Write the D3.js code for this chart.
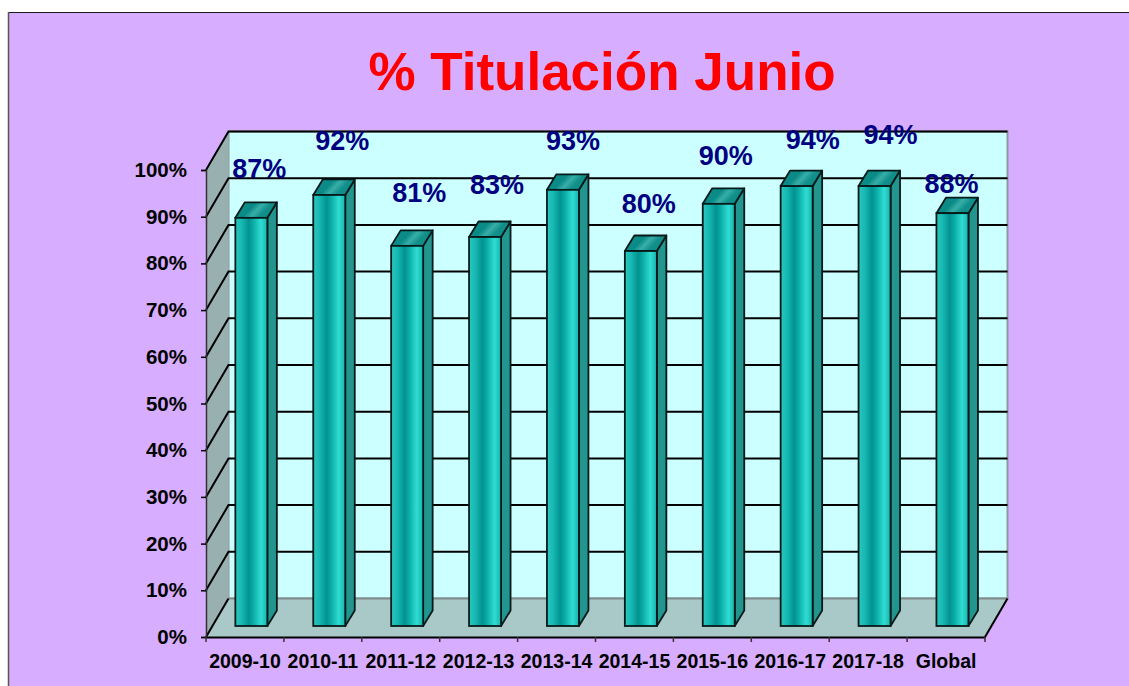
<!DOCTYPE html>
<html>
<head>
<meta charset="utf-8">
<script src="https://cdn.jsdelivr.net/npm/d3@7"></script>
<style>
  html, body { margin: 0; padding: 0; background: #fff; overflow: hidden; }
  text { font-family: "Liberation Sans", Arial, sans-serif; font-weight: bold; }
</style>
</head>
<body>
<svg id="chart" width="1129" height="686"></svg>
<script>
var categories = ['2009-10','2010-11','2011-12','2012-13','2013-14','2014-15','2015-16','2016-17','2017-18','Global'];
var values = [87.4, 92.3, 81.4, 83.3, 93.4, 80.3, 90.4, 94.2, 94.2, 88.4];
var yTicks = [0,10,20,30,40,50,60,70,80,90,100];

// the value labels were dragged by hand in the original, offsets from bar top
var labelShiftX = [8, 13, 12, 12, 10, 8, 7, 16, 16, -1];
var labelShiftY = [-40, -45, -44, -43, -40, -38, -39, -37, -42, -20];

var width = 1129, height = 686;

// front plane of the chart box
var plotLeft = 206, plotRight = 985, plotBottom = 637, plotTop = 170;
// offset of the back wall and of the plane the bars stand on
var wallDx = 22.5, wallDy = -38.5;
var barDx = 6.4, barDy = -11;
var depthDx = 9.5, depthDy = -15.5;
var barWidth = 32;

var svg = d3.select('#chart');
var defs = svg.append('defs');

var x = d3.scaleBand().domain(categories).range([plotLeft, plotRight]);
var y = d3.scaleLinear().domain([0, 100]).range([plotBottom, plotTop]);

var poly = function (pts) {
  return pts.map(function (p) { return p.join(','); }).join(' ');
};

// gradients
var addGradient = function (id, stops, x2, y2) {
  var g = defs.append('linearGradient').attr('id', id)
    .attr('x1', 0).attr('y1', 0).attr('x2', x2).attr('y2', y2);
  stops.forEach(function (s) {
    g.append('stop').attr('offset', s[0]).attr('stop-color', s[1]);
  });
};
addGradient('barFront', [[0,'#2ac8c0'],[0.2,'#16b8b2'],[0.42,'#02928f'],[0.58,'#0cb0aa'],[0.8,'#30dcd2'],[1,'#14b4ac']], 1, 0);
addGradient('barTop', [[0,'#0e8f8b'],[0.45,'#0a8a86'],[0.62,'#38aea8'],[0.8,'#128f8b'],[1,'#0c8c88']], 1, 0.35);

// page background
svg.append('rect').attr('x', 8).attr('y', 12).attr('width', width).attr('height', height)
  .attr('fill', '#d6adff');
svg.append('line').attr('x1', 8).attr('x2', width).attr('y1', 12.5).attr('y2', 12.5)
  .attr('stroke', '#1a1a1a').attr('stroke-width', 1);
svg.append('line').attr('x1', 8.5).attr('x2', 8.5).attr('y1', 12).attr('y2', height)
  .attr('stroke', '#555').attr('stroke-width', 1.5);

// title
svg.append('text').attr('x', 602).attr('y', 90).attr('text-anchor', 'middle')
  .attr('font-size', 53).attr('fill', '#ff0000').attr('class', 'title')
  .text('% Titulación Junio');

// back wall
svg.append('rect')
  .attr('x', plotLeft + wallDx).attr('y', y(100) + wallDy)
  .attr('width', plotRight - plotLeft).attr('height', y(0) - y(100))
  .attr('fill', '#ccffff').attr('stroke', '#8c9a9a').attr('stroke-width', 2);

// side wall
svg.append('polygon')
  .attr('points', poly([[plotLeft, y(100)], [plotLeft + wallDx, y(100) + wallDy], [plotLeft + wallDx, y(0) + wallDy], [plotLeft, y(0)]]))
  .attr('fill', '#99b0b0');

// floor
svg.append('polygon')
  .attr('points', poly([[plotLeft, y(0)], [plotLeft + wallDx, y(0) + wallDy], [plotRight + wallDx, y(0) + wallDy], [plotRight, y(0)]]))
  .attr('fill', '#a9c8c8');
svg.append('line')
  .attr('x1', plotLeft + wallDx).attr('x2', plotRight + wallDx)
  .attr('y1', y(0) + wallDy).attr('y2', y(0) + wallDy)
  .attr('stroke', '#808c8c').attr('stroke-width', 2);

// grid lines on the back wall and the side wall
var grid = svg.append('g').attr('class', 'grid');
grid.selectAll('path').data(yTicks).enter().append('path')
  .attr('d', function (d) {
    var py = y(d);
    if (d === 0) {
      return 'M' + plotLeft + ',' + py + 'L' + (plotLeft + wallDx) + ',' + (py + wallDy);
    }
    return 'M' + plotLeft + ',' + py + 'L' + (plotLeft + wallDx) + ',' + (py + wallDy) + 'L' + (plotRight + wallDx) + ',' + (py + wallDy);
  })
  .attr('fill', 'none').attr('stroke', '#000').attr('stroke-width', 2);

// right edge of the floor
svg.append('line')
  .attr('x1', plotRight).attr('x2', plotRight + wallDx)
  .attr('y1', y(0)).attr('y2', y(0) + wallDy)
  .attr('stroke', '#000').attr('stroke-width', 2);

// axes
var yAxis = d3.axisLeft(y).tickValues(yTicks).tickSize(5).tickPadding(14)
  .tickFormat(function (d) { return d + '%'; });
var yG = svg.append('g').attr('transform', 'translate(' + plotLeft + ',0)').call(yAxis);
yG.select('.domain').attr('stroke', '#333').attr('stroke-width', 1.5);
yG.selectAll('.tick line').attr('stroke', '#000').attr('stroke-width', 1.5);
yG.selectAll('text').attr('font-size', 20.5).attr('fill', '#000').attr('font-family', null);

var xAxis = d3.axisBottom(x).tickSize(0).tickPadding(17);
var xG = svg.append('g').attr('transform', 'translate(0,' + plotBottom + ')').call(xAxis);
xG.select('.domain').attr('stroke', '#000').attr('stroke-width', 2);
xG.selectAll('text').attr('font-size', 19.5).attr('fill', '#000').attr('font-family', null);

// x ticks sit on the band edges
svg.append('g').selectAll('line').data(categories.concat(['end'])).enter().append('line')
  .attr('x1', function (d, i) { return plotLeft + i * x.bandwidth(); })
  .attr('x2', function (d, i) { return plotLeft + i * x.bandwidth(); })
  .attr('y1', plotBottom).attr('y2', plotBottom + 5)
  .attr('stroke', '#333').attr('stroke-width', 1.5);

// bars
var barX = function (d, i) { return x(categories[i]) + x.bandwidth() / 2 + barDx - barWidth / 2; };
var barBase = y(0) + barDy;
var barTop = function (d) { return y(d) + barDy; };

var bar = svg.append('g').attr('class', 'bars').selectAll('g').data(values).enter().append('g');

// side face
bar.append('polygon')
  .attr('points', function (d, i) {
    var bx = barX(d, i) + barWidth, ty = barTop(d);
    return poly([[bx, ty], [bx + depthDx, ty + depthDy], [bx + depthDx, barBase + depthDy], [bx, barBase]]);
  })
  .attr('fill', '#23958f').attr('stroke', '#071a1a').attr('stroke-width', 1.8).attr('stroke-linejoin', 'round');

// top face
bar.append('polygon')
  .attr('points', function (d, i) {
    var bx = barX(d, i), ty = barTop(d);
    return poly([[bx, ty], [bx + depthDx, ty + depthDy], [bx + barWidth + depthDx, ty + depthDy], [bx + barWidth, ty]]);
  })
  .attr('fill', 'url(#barTop)').attr('stroke', '#071a1a').attr('stroke-width', 1.8).attr('stroke-linejoin', 'round');

// front face
bar.append('rect')
  .attr('x', barX)
  .attr('y', barTop)
  .attr('width', barWidth)
  .attr('height', function (d) { return barBase - barTop(d); })
  .attr('fill', 'url(#barFront)').attr('stroke', '#071a1a').attr('stroke-width', 1.8);

// value labels
bar.append('text')
  .attr('x', function (d, i) { return barX(d, i) + barWidth / 2 + labelShiftX[i]; })
  .attr('y', function (d, i) { return barTop(d) + labelShiftY[i]; })
  .attr('text-anchor', 'middle')
  .attr('font-size', 27).attr('fill', '#000080')
  .text(function (d) { return Math.round(d) + '%'; });
</script>
</body>
</html>
